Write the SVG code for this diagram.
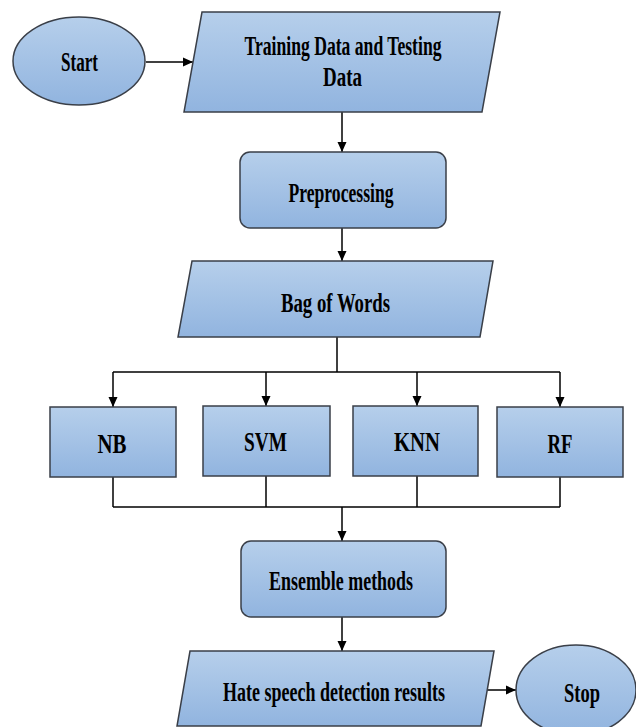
<svg xmlns="http://www.w3.org/2000/svg" width="636" height="727" viewBox="0 0 636 727">
<defs>
<linearGradient id="g" x1="0" y1="0" x2="0" y2="1">
<stop offset="0" stop-color="#b6cfeb"/>
<stop offset="1" stop-color="#91b4df"/>
</linearGradient>
<marker id="arr" markerUnits="userSpaceOnUse" markerWidth="10" markerHeight="10" refX="10" refY="5" orient="auto">
<path d="M0,0.5 L10,5 L0,9.5 z" fill="#000"/>
</marker>
</defs>
<style>
.s{fill:url(#g);stroke:#3a3f48;stroke-width:1.5}
.t{font-family:"Liberation Serif","Times New Roman",serif;font-weight:bold;font-size:27.5px;fill:#000;text-anchor:middle}
.c{fill:none;stroke:#000;stroke-width:1.5}
.a{fill:none;stroke:#000;stroke-width:1.5;marker-end:url(#arr)}
</style>
<rect width="636" height="727" fill="#fff"/>
<g id="connectors">
<line class="a" x1="146" y1="62" x2="193" y2="62"/>
<line class="a" x1="342" y1="112" x2="342" y2="152"/>
<line class="a" x1="342" y1="228" x2="342" y2="261"/>
<line class="c" x1="337" y1="337" x2="337" y2="372"/>
<line class="c" x1="113" y1="372" x2="560" y2="372"/>
<line class="a" x1="113" y1="372" x2="113" y2="407"/>
<line class="a" x1="266" y1="372" x2="266" y2="406"/>
<line class="a" x1="417" y1="372" x2="417" y2="406"/>
<line class="a" x1="560" y1="372" x2="560" y2="407"/>
<line class="c" x1="113" y1="477" x2="113" y2="507"/>
<line class="c" x1="266" y1="476" x2="266" y2="507"/>
<line class="c" x1="417" y1="476" x2="417" y2="507"/>
<line class="c" x1="560" y1="477" x2="560" y2="507"/>
<line class="c" x1="113" y1="507" x2="560" y2="507"/>
<line class="a" x1="342" y1="507" x2="342" y2="541"/>
<line class="a" x1="342" y1="617" x2="342" y2="651"/>
<line class="a" x1="487" y1="690" x2="516" y2="690"/>
</g>
<g id="start">
<ellipse class="s" cx="79" cy="61" rx="66" ry="44"/>
<text class="t" x="79.5" y="71" textLength="37" lengthAdjust="spacingAndGlyphs">Start</text>
</g>
<g id="training-data">
<polygon class="s" points="202,12 500,12 482,112 184,112"/>
<text class="t" x="343" y="55" textLength="197" lengthAdjust="spacingAndGlyphs">Training  Data and Testing</text>
<text class="t" x="342.5" y="86" textLength="39" lengthAdjust="spacingAndGlyphs">Data</text>
</g>
<g id="preprocessing">
<rect class="s" x="240" y="152" width="206" height="76" rx="10"/>
<text class="t" x="341" y="202" textLength="105" lengthAdjust="spacingAndGlyphs">Preprocessing</text>
</g>
<g id="bag-of-words">
<polygon class="s" points="192,261 493,261 480,337 178,337"/>
<text class="t" x="335.5" y="312" textLength="109" lengthAdjust="spacingAndGlyphs">Bag of Words</text>
</g>
<g id="nb">
<rect class="s" x="50" y="407" width="126" height="70"/>
<text class="t" x="112" y="453" textLength="29" lengthAdjust="spacingAndGlyphs">NB</text>
</g>
<g id="svm">
<rect class="s" x="203" y="406" width="127" height="70"/>
<text class="t" x="265.5" y="451" textLength="43" lengthAdjust="spacingAndGlyphs">SVM</text>
</g>
<g id="knn">
<rect class="s" x="353" y="406" width="125" height="70"/>
<text class="t" x="417" y="451" textLength="46" lengthAdjust="spacingAndGlyphs">KNN</text>
</g>
<g id="rf">
<rect class="s" x="497" y="407" width="126" height="70"/>
<text class="t" x="560" y="453" textLength="25" lengthAdjust="spacingAndGlyphs">RF</text>
</g>
<g id="ensemble">
<rect class="s" x="241" y="541" width="205" height="76" rx="10"/>
<text class="t" x="341" y="590" textLength="144" lengthAdjust="spacingAndGlyphs">Ensemble  methods</text>
</g>
<g id="results">
<polygon class="s" points="190,651 494,651 481,726 177,726"/>
<text class="t" x="334" y="701" textLength="222" lengthAdjust="spacingAndGlyphs">Hate speech detection results</text>
</g>
<g id="stop">
<ellipse class="s" cx="576" cy="690" rx="60" ry="45"/>
<text class="t" x="582" y="702" textLength="36" lengthAdjust="spacingAndGlyphs">Stop</text>
</g>
</svg>
